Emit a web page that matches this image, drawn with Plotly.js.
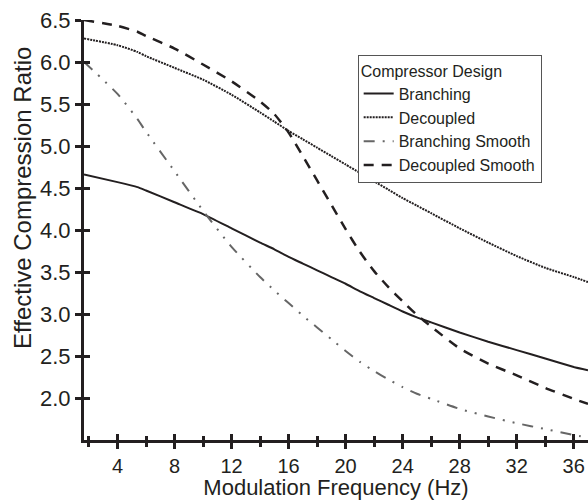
<!DOCTYPE html>
<html>
<head>
<meta charset="utf-8">
<script src="https://cdn.plot.ly/plotly-3.0.1.min.js"></script>
<style>html,body{margin:0;padding:0;background:#fff;}#chart{width:588px;height:500px;}</style>
</head>
<body>
<div id="chart"></div>
<script>
// Modulation frequency (Hz)
const freq = [1.65, 4, 5.4, 6, 8, 10, 12, 14, 15, 16, 17, 18, 19, 20, 21, 22, 23, 24, 25, 26, 28, 30, 32, 34, 36, 37];
// Effective compression ratio per design
const branching       = [4.66, 4.57, 4.51, 4.47, 4.33, 4.19, 4.02, 3.85, 3.77, 3.68, 3.60, 3.52, 3.44, 3.36, 3.27, 3.19, 3.11, 3.03, 2.96, 2.90, 2.78, 2.67, 2.57, 2.47, 2.37, 2.33];
const decoupled       = [6.28, 6.20, 6.12, 6.07, 5.93, 5.79, 5.61, 5.40, 5.29, 5.18, 5.08, 4.98, 4.88, 4.78, 4.68, 4.58, 4.48, 4.38, 4.29, 4.20, 4.02, 3.85, 3.69, 3.55, 3.44, 3.38];
const branchingSmooth = [6.00, 5.62, 5.32, 5.17, 4.70, 4.23, 3.80, 3.44, 3.28, 3.13, 2.98, 2.84, 2.70, 2.56, 2.43, 2.32, 2.22, 2.13, 2.05, 1.99, 1.87, 1.78, 1.70, 1.63, 1.56, 1.53];
const decoupledSmooth = [6.50, 6.43, 6.36, 6.31, 6.16, 5.97, 5.77, 5.53, 5.38, 5.16, 4.88, 4.59, 4.30, 4.01, 3.74, 3.51, 3.32, 3.15, 2.99, 2.85, 2.59, 2.41, 2.27, 2.12, 1.99, 1.93];

const seriesNames = ["Branching", "Decoupled", "Branching Smooth", "Decoupled Smooth"];
const yTicks = [2.0, 2.5, 3.0, 3.5, 4.0, 4.5, 5.0, 5.5, 6.0, 6.5];
const xTicks = [4, 8, 12, 16, 20, 24, 28, 32, 36];
const xMinorTicks = [2, 6, 10, 14, 18, 22, 26, 30, 34];

const ink = "#231f20";
const font = "Liberation Sans, Arial, Helvetica, sans-serif";

const traces = [
  {x: freq, y: branching, name: seriesNames[0], mode: "lines",
   line: {color: ink, width: 2, dash: "solid", shape: "spline", smoothing: 0.4}},
  {x: freq, y: decoupled, name: seriesNames[1], mode: "lines",
   line: {color: ink, width: 2, dash: "2px,1px", shape: "spline", smoothing: 0.6}},
  {x: freq, y: branchingSmooth, name: seriesNames[2], mode: "lines",
   line: {color: "#666666", width: 2, dash: "11px,8px,2px,8px,2px,8px", shape: "spline", smoothing: 0.6}},
  {x: freq, y: decoupledSmooth, name: seriesNames[3], mode: "lines",
   line: {color: ink, width: 2.5, dash: "10px,8px", shape: "spline", smoothing: 0.6}},
  // invisible helper so the overlaid tick axes (inner half of the crossing ticks) get drawn
  {x: freq, y: branching, xaxis: "x2", yaxis: "y2", mode: "lines", opacity: 0,
   line: {width: 0}, showlegend: false, hoverinfo: "skip"}
];

const xr = [1.65, 37];
const yr = [1.5, 6.5];

const layout = {
  width: 588, height: 500,
  margin: {l: 84, r: 0, t: 20, b: 60},
  paper_bgcolor: "#ffffff", plot_bgcolor: "#ffffff",
  font: {family: font, color: ink, size: 22},
  showlegend: true,
  legend: {
    x: 0.543, y: 0.917, xanchor: "left", yanchor: "top",
    bgcolor: "#ffffff", bordercolor: "#555555", borderwidth: 1,
    font: {family: font, size: 16, color: ink},
    title: {text: "Compressor Design", font: {family: font, size: 16, color: ink}},
    tracegroupgap: 0, itemwidth: 30
  },
  xaxis: {
    range: xr, showgrid: false, zeroline: false,
    showline: true, linecolor: ink, linewidth: 3,
    tickmode: "array", tickvals: xTicks, ticktext: xTicks.map(String),
    ticks: "outside", ticklen: 6, tickwidth: 3, tickcolor: ink,
    minor: {tickmode: "array", tickvals: xMinorTicks, ticks: "outside", ticklen: 4, tickwidth: 3, tickcolor: ink},
    tickfont: {family: font, size: 20, color: ink},
    title: {text: "Modulation Frequency (Hz)", font: {family: font, size: 22, color: ink}, standoff: 6}
  },
  xaxis2: {
    overlaying: "x", anchor: "y", side: "bottom", range: xr,
    showgrid: false, zeroline: false, showline: false, showticklabels: false,
    tickmode: "array", tickvals: xTicks,
    ticks: "inside", ticklen: 6, tickwidth: 3, tickcolor: ink,
    minor: {tickmode: "array", tickvals: xMinorTicks, ticks: "inside", ticklen: 4, tickwidth: 3, tickcolor: ink}
  },
  yaxis: {
    range: yr, showgrid: false, zeroline: false,
    showline: true, linecolor: ink, linewidth: 3,
    tickmode: "array", tickvals: yTicks, ticktext: yTicks.map(v => v.toFixed(1)),
    ticks: "outside", ticklen: 6, tickwidth: 3, tickcolor: ink,
    tickfont: {family: font, size: 22, color: ink}
  },
  yaxis2: {
    overlaying: "y", anchor: "x", side: "left", range: yr,
    showgrid: false, zeroline: false, showline: false, showticklabels: false,
    tickmode: "array", tickvals: yTicks,
    ticks: "inside", ticklen: 6, tickwidth: 3, tickcolor: ink
  },
  annotations: [{
    text: "Effective Compression Ratio", xref: "paper", yref: "paper",
    x: -0.122, y: 0.575, xanchor: "center", yanchor: "middle",
    textangle: -90, showarrow: false,
    font: {family: font, size: 24, color: ink}
  }]
};

Plotly.newPlot("chart", traces, layout, {displayModeBar: false, staticPlot: true});
</script>
</body>
</html>
